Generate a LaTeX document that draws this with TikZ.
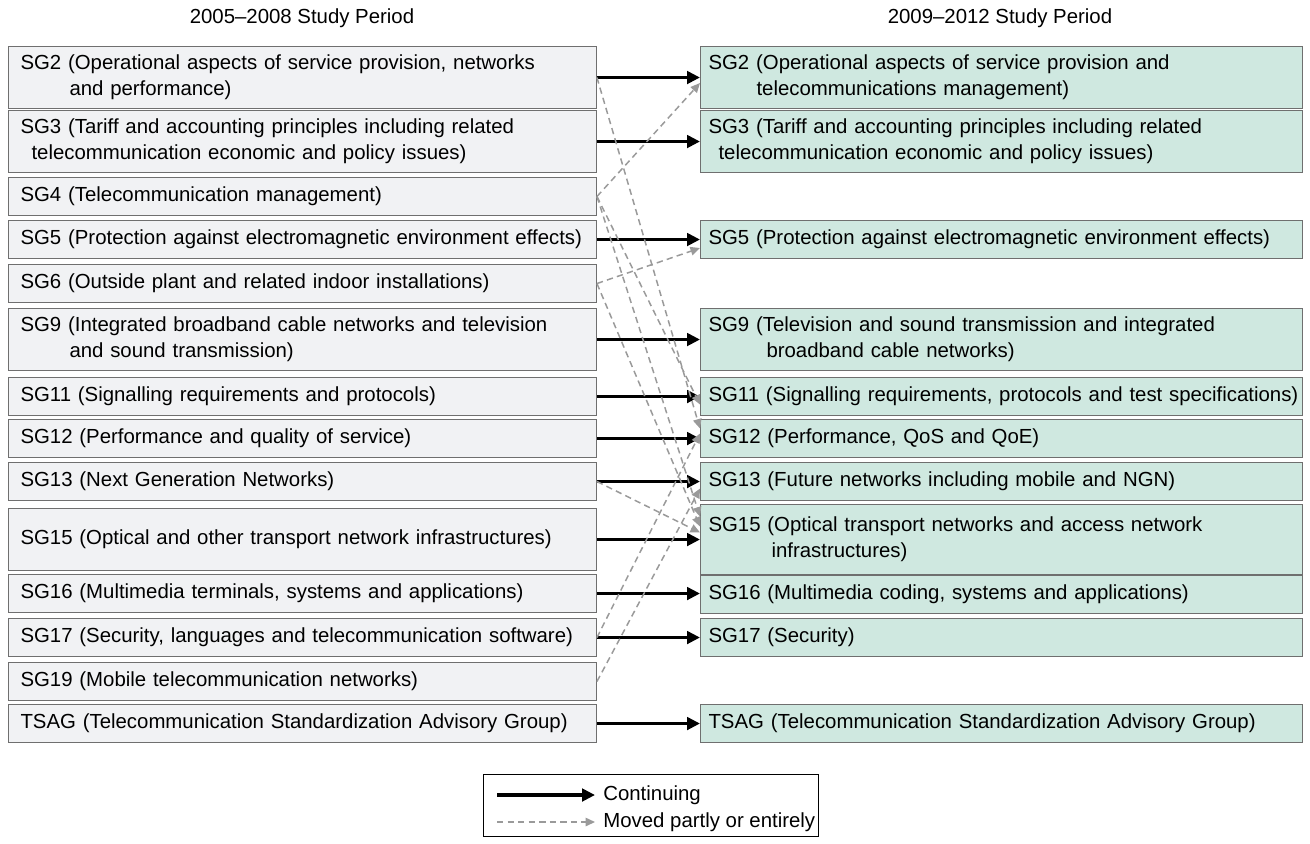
\documentclass[tikz,border=0pt]{standalone}
\usepackage{fontspec}
\setmainfont{Liberation Sans}
\usetikzlibrary{arrows.meta}
\definecolor{oldfill}{HTML}{F1F2F4}
\definecolor{newfill}{HTML}{CFE8E0}
\definecolor{boxline}{HTML}{6F6F6F}
\definecolor{movegray}{HTML}{9A9A9A}
\begin{document}
\begin{tikzpicture}[x=0.02cm,y=-0.02cm,font=\fontsize{11.6}{14.7}\selectfont,
  oldbox/.style={draw=boxline,fill=oldfill,line width=0.6pt,anchor=north west,text width=11.28cm,inner xsep=0.24cm,inner ysep=0pt,align=left},
  newbox/.style={draw=boxline,fill=newfill,line width=0.6pt,anchor=north west,text width=11.72cm,inner xsep=0.16cm,inner ysep=0pt,align=left},
  onerow/.style={minimum height=0.76cm},
  tworow/.style={minimum height=1.24cm},
  contarrow/.style={line width=2.2pt,-{Triangle[length=0.26cm,width=0.25cm]}},
  movearrow/.style={movegray,line width=0.85pt,dash pattern=on 3.6pt off 2.4pt,-{Triangle[length=0.19cm,width=0.17cm]}}]
\useasboundingbox (0,0) rectangle (1310,844);
\node (hold) at (302,18) {2005--2008 Study Period};
\node (hnew) at (1000,18) {2009--2012 Study Period};
\node[oldbox,tworow] (o2) at (8,46) {SG2 (Operational aspects of service provision, networks\\\hspace*{0.98cm}and performance)};
\node[oldbox,tworow] (o3) at (8,110) {SG3 (Tariff and accounting principles including related\\\hspace*{0.22cm}telecommunication economic and policy issues)};
\node[oldbox,onerow] (o4) at (8,177) {SG4 (Telecommunication management)};
\node[oldbox,onerow] (o5) at (8,220) {SG5 (Protection against electromagnetic environment effects)};
\node[oldbox,onerow] (o6) at (8,264) {SG6 (Outside plant and related indoor installations)};
\node[oldbox,tworow] (o9) at (8,308) {SG9 (Integrated broadband cable networks and television\\\hspace*{0.98cm}and sound transmission)};
\node[oldbox,onerow] (o11) at (8,377) {SG11 (Signalling requirements and protocols)};
\node[oldbox,onerow] (o12) at (8,419) {SG12 (Performance and quality of service)};
\node[oldbox,onerow] (o13) at (8,462) {SG13 (Next Generation Networks)};
\node[oldbox,tworow] (o15) at (8,508) {SG15 (Optical and other transport network infrastructures)};
\node[oldbox,onerow] (o16) at (8,574) {SG16 (Multimedia terminals, systems and applications)};
\node[oldbox,onerow] (o17) at (8,618) {SG17 (Security, languages and telecommunication software)};
\node[oldbox,onerow] (o19) at (8,662) {SG19 (Mobile telecommunication networks)};
\node[oldbox,onerow] (otsag) at (8,704) {TSAG (Telecommunication Standardization Advisory Group)};
\node[newbox,tworow] (n2) at (700,46) {SG2 (Operational aspects of service provision and\\\hspace*{0.96cm}telecommunications management)};
\node[newbox,tworow] (n3) at (700,110) {SG3 (Tariff and accounting principles including related\\\hspace*{0.2cm}telecommunication economic and policy issues)};
\node[newbox,onerow] (n5) at (700,220) {SG5 (Protection against electromagnetic environment effects)};
\node[newbox,tworow] (n9) at (700,308) {SG9 (Television and sound transmission and integrated\\\hspace*{1.16cm}broadband cable networks)};
\node[newbox,onerow] (n11) at (700,377) {\mbox{SG11 (Signalling requirements, protocols and test specifications)}};
\node[newbox,onerow] (n12) at (700,419) {SG12 (Performance, QoS and QoE)};
\node[newbox,onerow] (n13) at (700,462) {SG13 (Future networks including mobile and NGN)};
\node[newbox,minimum height=1.4cm] (n15) at (700,504) {SG15 (Optical transport networks and access network\\\hspace*{1.26cm}infrastructures)};
\node[newbox,onerow] (n16) at (700,575) {SG16 (Multimedia coding, systems and applications)};
\node[newbox,onerow] (n17) at (700,618) {SG17 (Security)};
\node[newbox,onerow] (ntsag) at (700,704) {TSAG (Telecommunication Standardization Advisory Group)};
\draw[contarrow] (o2.east) -- (o2.east -| n2.west);
\draw[contarrow] (o3.east) -- (o3.east -| n3.west);
\draw[contarrow] (o5.east) -- (o5.east -| n5.west);
\draw[contarrow] (o9.east) -- (o9.east -| n9.west);
\draw[contarrow] (o11.east) -- (o11.east -| n11.west);
\draw[contarrow] (o12.east) -- (o12.east -| n12.west);
\draw[contarrow] (o13.east) -- (o13.east -| n13.west);
\draw[contarrow] (o15.east) -- (o15.east -| n15.west);
\draw[contarrow] (o16.east) -- (o16.east -| n16.west);
\draw[contarrow] (o17.east) -- (o17.east -| n17.west);
\draw[contarrow] (otsag.east) -- (otsag.east -| ntsag.west);
\draw[movearrow] (o2.east) -- ([yshift=0.2cm]n12.west);
\draw[movearrow] (o4.east) -- ([yshift=-0.11cm]n2.west);
\draw[movearrow] (o4.east) -- ([yshift=-0.16cm]n11.west);
\draw[movearrow] (o4.east) -- ([yshift=0.46cm]n15.west);
\draw[movearrow] (o6.east) -- ([yshift=-0.17cm]n5.west);
\draw[movearrow] (o6.east) -- ([yshift=0.26cm]n15.west);
\draw[movearrow] (o13.east) -- ([yshift=0.14cm]n15.west);
\draw[movearrow] (o17.east) -- ([yshift=0.1cm]n12.west);
\draw[movearrow] (o19.east) -- ([yshift=-0.14cm]n13.west);
\node[draw,line width=0.6pt,anchor=north west,minimum width=6.7cm,minimum height=1.24cm] (legend) at (483,774) {};
\coordinate (c1) at (497,795);
\coordinate (c2) at (595,795);
\coordinate (m1) at (497,822);
\coordinate (m2) at (595,822);
\node[anchor=west,inner sep=0pt] (lc) at (603,795) {Continuing};
\node[anchor=west,inner sep=0pt] (lm) at (603,822) {Moved partly or entirely};
\draw[contarrow] (c1) -- (c2);
\draw[movearrow] (m1) -- (m2);
\end{tikzpicture}
\end{document}
